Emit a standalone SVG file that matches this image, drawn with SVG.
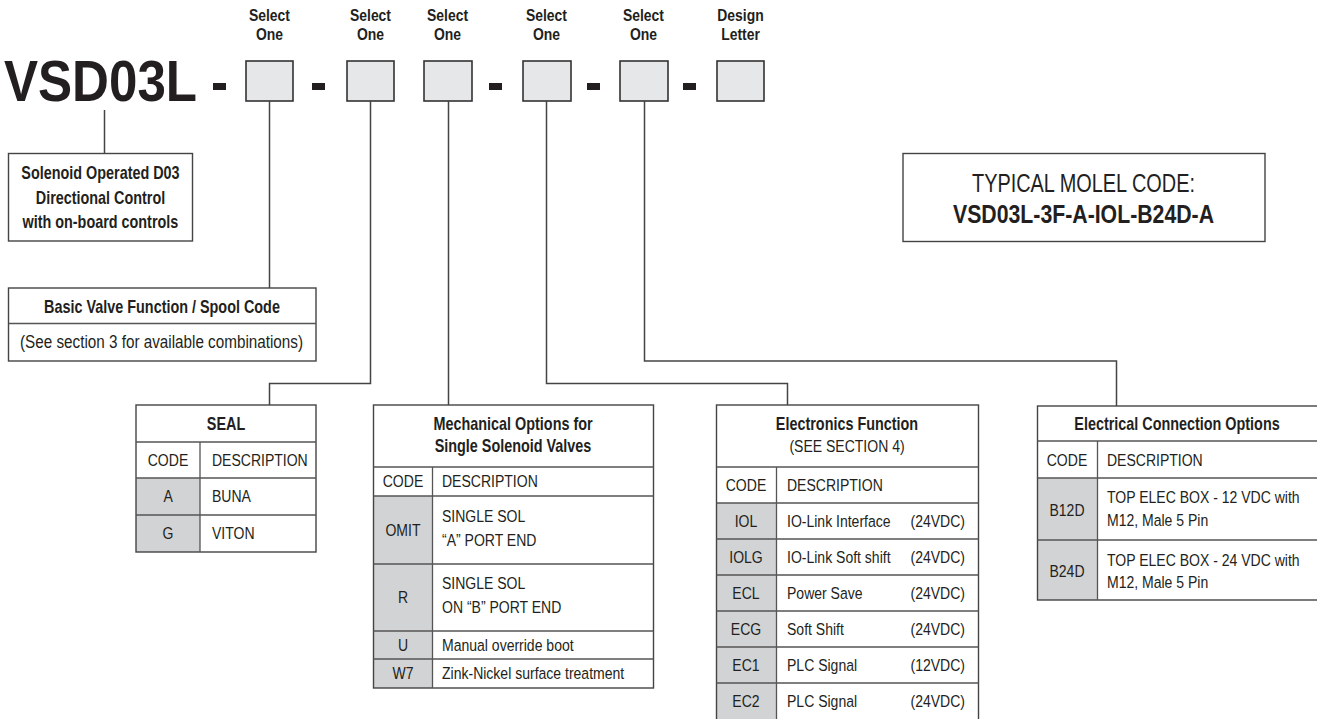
<svg xmlns="http://www.w3.org/2000/svg" width="1317" height="719" viewBox="0 0 1317 719">
<style>
text{font-family:"Liberation Sans",Arial,sans-serif;fill:#231f20;font-size:16.5px;transform-box:fill-box;transform-origin:0% 50%;transform:scaleX(.85)}
.c{text-anchor:middle;transform-origin:50% 50%}
.e{text-anchor:end;transform-origin:100% 50%}
.b{font-weight:bold}
.h{font-weight:bold;font-size:18px;transform:scaleX(.8)}
.s{font-weight:bold;font-size:17px;transform:scaleX(.82)}
.ns{transform:none}
.sel{fill:#e6e7e8;stroke:#333;stroke-width:1.6}
.dash{fill:#231f20}
.box{fill:#fff;stroke:#444;stroke-width:1.4}
.ln{fill:none;stroke:#555;stroke-width:1.3}
.cd{fill:#d1d3d4;stroke:none}
.conn path{fill:none;stroke:#444;stroke-width:1.5}
</style>

<g id="model-code">
<text x="4" y="101" class="b ns" style="font-size:58px" textLength="193" lengthAdjust="spacingAndGlyphs">VSD03L</text>
<rect class="dash" x="213" y="83" width="13" height="7"/>
<rect class="dash" x="312" y="83" width="13" height="7"/>
<rect class="dash" x="489" y="83" width="13" height="7"/>
<rect class="dash" x="587" y="83" width="13" height="7"/>
<rect class="dash" x="683" y="83" width="13" height="7"/>
</g>

<g id="slot1"><text x="269.5" y="21" class="s c">Select</text><text x="269.5" y="40" class="s c">One</text><rect class="sel" x="246" y="61" width="47" height="40"/></g>
<g id="slot2"><text x="370.5" y="21" class="s c">Select</text><text x="370.5" y="40" class="s c">One</text><rect class="sel" x="347" y="61" width="47" height="40"/></g>
<g id="slot3"><text x="447.5" y="21" class="s c">Select</text><text x="447.5" y="40" class="s c">One</text><rect class="sel" x="424" y="61" width="48" height="40"/></g>
<g id="slot4"><text x="546.5" y="21" class="s c">Select</text><text x="546.5" y="40" class="s c">One</text><rect class="sel" x="523" y="61" width="48" height="40"/></g>
<g id="slot5"><text x="643.5" y="21" class="s c">Select</text><text x="643.5" y="40" class="s c">One</text><rect class="sel" x="620" y="61" width="48" height="40"/></g>
<g id="slot6"><text x="740.5" y="21" class="s c">Design</text><text x="740.5" y="40" class="s c">Letter</text><rect class="sel" x="717" y="61" width="47" height="40"/></g>

<g class="conn" id="connectors">
<path d="M104.5 110 V153.5"/>
<path d="M269.5 101 V288"/>
<path d="M370.5 101 V383.5 H269.5 V405"/>
<path d="M448.5 101 V405"/>
<path d="M546.5 101 V383.5 H787.5 V405"/>
<path d="M644.5 101 V361 H1116.5 V406"/>
</g>

<g id="solenoid-box">
<rect class="box" x="8.5" y="153.5" width="184" height="87.5"/>
<text x="100.5" y="179" class="h c">Solenoid Operated D03</text>
<text x="100.5" y="204" class="h c">Directional Control</text>
<text x="100.5" y="228" class="h c">with on-board controls</text>
</g>

<g id="typical-code">
<rect class="box" x="903" y="153.5" width="362" height="88"/>
<text x="972" y="192" class="ns" style="font-size:25px" textLength="223" lengthAdjust="spacingAndGlyphs">TYPICAL MOLEL CODE:</text>
<text x="953" y="223" class="b ns" style="font-size:25px" textLength="261" lengthAdjust="spacingAndGlyphs">VSD03L-3F-A-IOL-B24D-A</text>
</g>

<g id="basic-valve">
<rect class="box" x="8.5" y="288" width="307.5" height="73"/>
<path class="ln" d="M8.5 323.5 H316"/>
<text x="162" y="313" class="h c">Basic Valve Function / Spool Code</text>
<text x="20" y="348" class="ns" style="font-size:17.5px" textLength="283" lengthAdjust="spacingAndGlyphs">(See section 3 for available combinations)</text>
</g>

<g id="seal-table">
<rect class="cd" x="136" y="478" width="64" height="74"/>
<rect class="box" style="fill:none" x="136" y="405" width="180" height="147"/>
<path class="ln" d="M136 442 H316 M136 478 H316 M136 515 H316 M200 442 V552"/>
<text x="226" y="430" class="h c">SEAL</text>
<text x="168" y="466" class="c">CODE</text><text x="212" y="466">DESCRIPTION</text>
<text x="168" y="502" class="c">A</text><text x="212" y="502">BUNA</text>
<text x="168" y="539" class="c">G</text><text x="212" y="539">VITON</text>
</g>

<g id="mechanical-table">
<rect class="cd" x="373.5" y="496" width="59" height="192"/>
<rect class="box" style="fill:none" x="373.5" y="405" width="280" height="283"/>
<path class="ln" d="M373.5 467 H653.5 M373.5 496 H653.5 M373.5 564 H653.5 M373.5 631 H653.5 M373.5 659 H653.5 M432.5 467 V688"/>
<text x="513" y="430" class="h c">Mechanical Options for</text>
<text x="513" y="452" class="h c">Single Solenoid Valves</text>
<text x="403" y="487" class="c">CODE</text><text x="442" y="487">DESCRIPTION</text>
<text x="403" y="536" class="c">OMIT</text><text x="442" y="522">SINGLE SOL</text><text x="442" y="546">“A” PORT END</text>
<text x="403" y="603" class="c">R</text><text x="442" y="589">SINGLE SOL</text><text x="442" y="613">ON “B” PORT END</text>
<text x="403" y="651" class="c">U</text><text x="442" y="651">Manual override boot</text>
<text x="403" y="679" class="c">W7</text><text x="442" y="679">Zink-Nickel surface treatment</text>
</g>

<g id="electronics-table">
<rect class="cd" x="716.5" y="503" width="60" height="217"/>
<rect class="box" style="fill:none" x="716.5" y="405" width="262" height="320"/>
<path class="ln" d="M716.5 467 H978.5 M716.5 503 H978.5 M716.5 539 H978.5 M716.5 575 H978.5 M716.5 611 H978.5 M716.5 647 H978.5 M716.5 683 H978.5 M776.5 467 V719"/>
<text x="847" y="430" class="h c">Electronics Function</text>
<text x="847" y="452" class="c">(SEE SECTION 4)</text>
<text x="746" y="491" class="c">CODE</text><text x="787" y="491">DESCRIPTION</text>
<text x="746" y="527" class="c">IOL</text><text x="787" y="527">IO-Link Interface</text><text x="965" y="527" class="e">(24VDC)</text>
<text x="746" y="563" class="c">IOLG</text><text x="787" y="563">IO-Link Soft shift</text><text x="965" y="563" class="e">(24VDC)</text>
<text x="746" y="599" class="c">ECL</text><text x="787" y="599">Power Save</text><text x="965" y="599" class="e">(24VDC)</text>
<text x="746" y="635" class="c">ECG</text><text x="787" y="635">Soft Shift</text><text x="965" y="635" class="e">(24VDC)</text>
<text x="746" y="671" class="c">EC1</text><text x="787" y="671">PLC Signal</text><text x="965" y="671" class="e">(12VDC)</text>
<text x="746" y="707" class="c">EC2</text><text x="787" y="707">PLC Signal</text><text x="965" y="707" class="e">(24VDC)</text>
</g>

<g id="electrical-table">
<rect class="cd" x="1037.5" y="478" width="60" height="122"/>
<rect class="box" style="fill:none" x="1037.5" y="406" width="282" height="194"/>
<path class="ln" d="M1037.5 441 H1317 M1037.5 478 H1317 M1037.5 540 H1317 M1097.5 441 V600"/>
<text x="1177" y="430" class="h c">Electrical Connection Options</text>
<text x="1067" y="466" class="c">CODE</text><text x="1107" y="466">DESCRIPTION</text>
<text x="1067" y="516" class="c">B12D</text><text x="1107" y="503">TOP ELEC BOX - 12 VDC with</text><text x="1107" y="526">M12, Male 5 Pin</text>
<text x="1067" y="577" class="c">B24D</text><text x="1107" y="566">TOP ELEC BOX - 24 VDC with</text><text x="1107" y="588">M12, Male 5 Pin</text>
</g>
</svg>
